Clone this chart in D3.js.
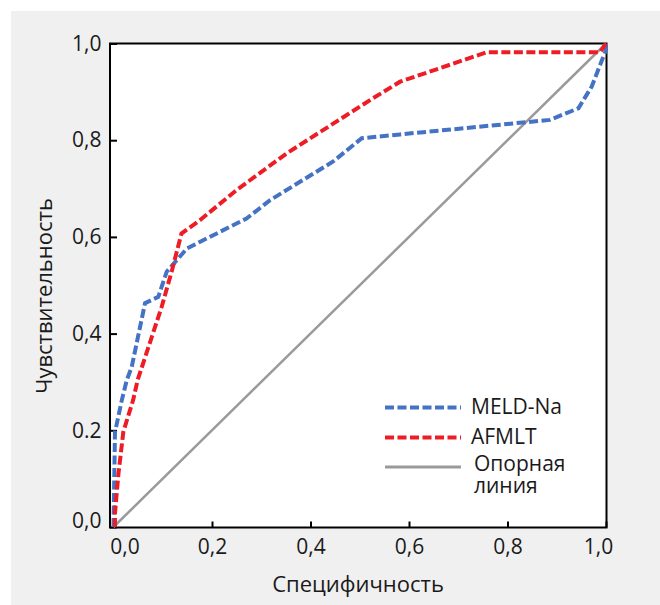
<!DOCTYPE html>
<html>
<head>
<meta charset="utf-8">
<script src="https://cdn.jsdelivr.net/npm/d3@7"></script>
<style>
  body { margin: 0; background: #fff; }
  text { font-family: "Open Sans", sans-serif; fill: #1a1a1a; }
</style>
</head>
<body>
<div id="chart-area"></div>
<script>
// MELD-Na curve (1 - specificity / sensitivity)
const meldSpec = [0, 0.003, 0.017, 0.027, 0.037, 0.064, 0.091, 0.108, 0.149, 0.176, 0.270, 0.318, 0.446, 0.504, 0.582, 0.886, 0.944, 0.971, 1.0, 1.0]
const meldSens = [0, 0.196, 0.263, 0.304, 0.331, 0.463, 0.476, 0.528, 0.576, 0.590, 0.638, 0.676, 0.756, 0.804, 0.812, 0.842, 0.866, 0.911, 0.987, 1.0]

// AFMLT curve
const afmltSpec = [0.003, 0.003, 0.010, 0.020, 0.040, 0.049, 0.098, 0.118, 0.138, 0.176, 0.250, 0.352, 0.521, 0.582, 0.758, 0.988, 1.0]
const afmltSens = [0, 0.029, 0.110, 0.197, 0.263, 0.304, 0.456, 0.528, 0.607, 0.635, 0.697, 0.773, 0.883, 0.921, 0.982, 0.982, 1.0]

// reference line
const refSpec = [0, 1]
const refSens = [0, 1]

const tickValues = [0, 0.2, 0.4, 0.6, 0.8, 1.0]
const xTickLabels = ["0,0", "0,2", "0,4", "0,6", "0,8", "1,0"]
const yTickLabels = ["0,0", "0.2", "0,4", "0,6", "0,8", "1,0"]

const seriesNames = ["MELD-Na", "AFMLT", "Опорная линия"]

const W = 660, H = 605
const FONT = 21

const svg = d3.select("#chart-area").append("svg")
  .attr("width", W)
  .attr("height", H)

// grey panel
svg.append("rect")
  .attr("x", 11).attr("y", 11)
  .attr("width", W - 11).attr("height", H - 11)
  .attr("fill", "#f0f0f0")

const x = d3.scaleLinear().domain([0, 1]).range([113.5, 606])
const y = d3.scaleLinear().domain([0, 1]).range([527, 43.5])

// plot area
svg.append("rect")
  .attr("x", 110).attr("y", 43.5)
  .attr("width", 606.5 - 110).attr("height", 527.5 - 43.5)
  .attr("fill", "#fff")

// axes with inward ticks
const xAxis = svg.append("g")
  .attr("transform", "translate(0,527.5)")
  .call(d3.axisBottom(x).tickValues(tickValues)
    .tickFormat((d, i) => xTickLabels[i])
    .tickSize(-6).tickPadding(11.5))
xAxis.select(".domain").remove()
xAxis.selectAll("line").attr("stroke", "#000").attr("stroke-width", 2)
xAxis.selectAll("text")
  .attr("font-size", FONT)
  .attr("fill", "#1a1a1a")
  .attr("dx", (d, i) => i === 0 ? 11 : (i === 5 ? -8 : 0))

const yAxis = svg.append("g")
  .attr("transform", "translate(110,0)")
  .call(d3.axisLeft(y).tickValues(tickValues)
    .tickFormat((d, i) => yTickLabels[i])
    .tickSize(-7).tickPadding(8.5))
yAxis.select(".domain").remove()
yAxis.selectAll("line").attr("stroke", "#000").attr("stroke-width", 2)
yAxis.selectAll("text")
  .attr("font-size", FONT)
  .attr("fill", "#1a1a1a")
  .attr("dy", (d, i) => i === 0 ? "0.0em" : "0.32em")

// frame
svg.append("rect")
  .attr("x", 110).attr("y", 43.5)
  .attr("width", 606.5 - 110).attr("height", 527.5 - 43.5)
  .attr("fill", "none")
  .attr("stroke", "#000")
  .attr("stroke-width", 2)

const line = d3.line()
  .x(d => x(d[0]))
  .y(d => y(d[1]))

const series = [
  { name: seriesNames[0], pts: d3.zip(meldSpec, meldSens), color: "#4472c4", dash: "9,3.5", width: 4 },
  { name: seriesNames[1], pts: d3.zip(afmltSpec, afmltSens), color: "#ee1c25", dash: "9,3.5", width: 4 },
  { name: seriesNames[2], pts: d3.zip(refSpec, refSens), color: "#9a9a9a", dash: null, width: 2.5 }
]

// reference line first, then curves
svg.selectAll("path.curve")
  .data([series[2], series[0], series[1]])
  .enter().append("path")
  .attr("class", "curve")
  .attr("d", d => line(d.pts))
  .attr("fill", "none")
  .attr("stroke", d => d.color)
  .attr("stroke-width", d => d.width)
  .attr("stroke-dasharray", d => d.dash)

// legend
const legendY = [407.5, 437.5, 467]
const lg = svg.append("g")
series.forEach((s, i) => {
  lg.append("line")
    .attr("x1", 385).attr("x2", 461)
    .attr("y1", legendY[i]).attr("y2", legendY[i])
    .attr("stroke", s.color)
    .attr("stroke-width", s.dash ? 4 : 3)
    .attr("stroke-dasharray", s.dash)
})
lg.append("text").attr("x", 471).attr("y", 414).attr("font-size", FONT).text(seriesNames[0])
lg.append("text").attr("x", 471).attr("y", 444).attr("font-size", FONT).text(seriesNames[1])
const refLabel = lg.append("text").attr("x", 474).attr("y", 471).attr("font-size", FONT)
refLabel.append("tspan").attr("x", 474).text("Опорная")
refLabel.append("tspan").attr("x", 474).attr("dy", 22).text("линия")

// axis titles
svg.append("text")
  .attr("x", 358).attr("y", 592)
  .attr("text-anchor", "middle")
  .attr("font-size", FONT + 1)
  .text("Специфичность")

svg.append("text")
  .attr("transform", "translate(52,296) rotate(-90)")
  .attr("text-anchor", "middle")
  .attr("font-size", FONT + 1)
  .text("Чувствительность")
</script>
</body>
</html>
